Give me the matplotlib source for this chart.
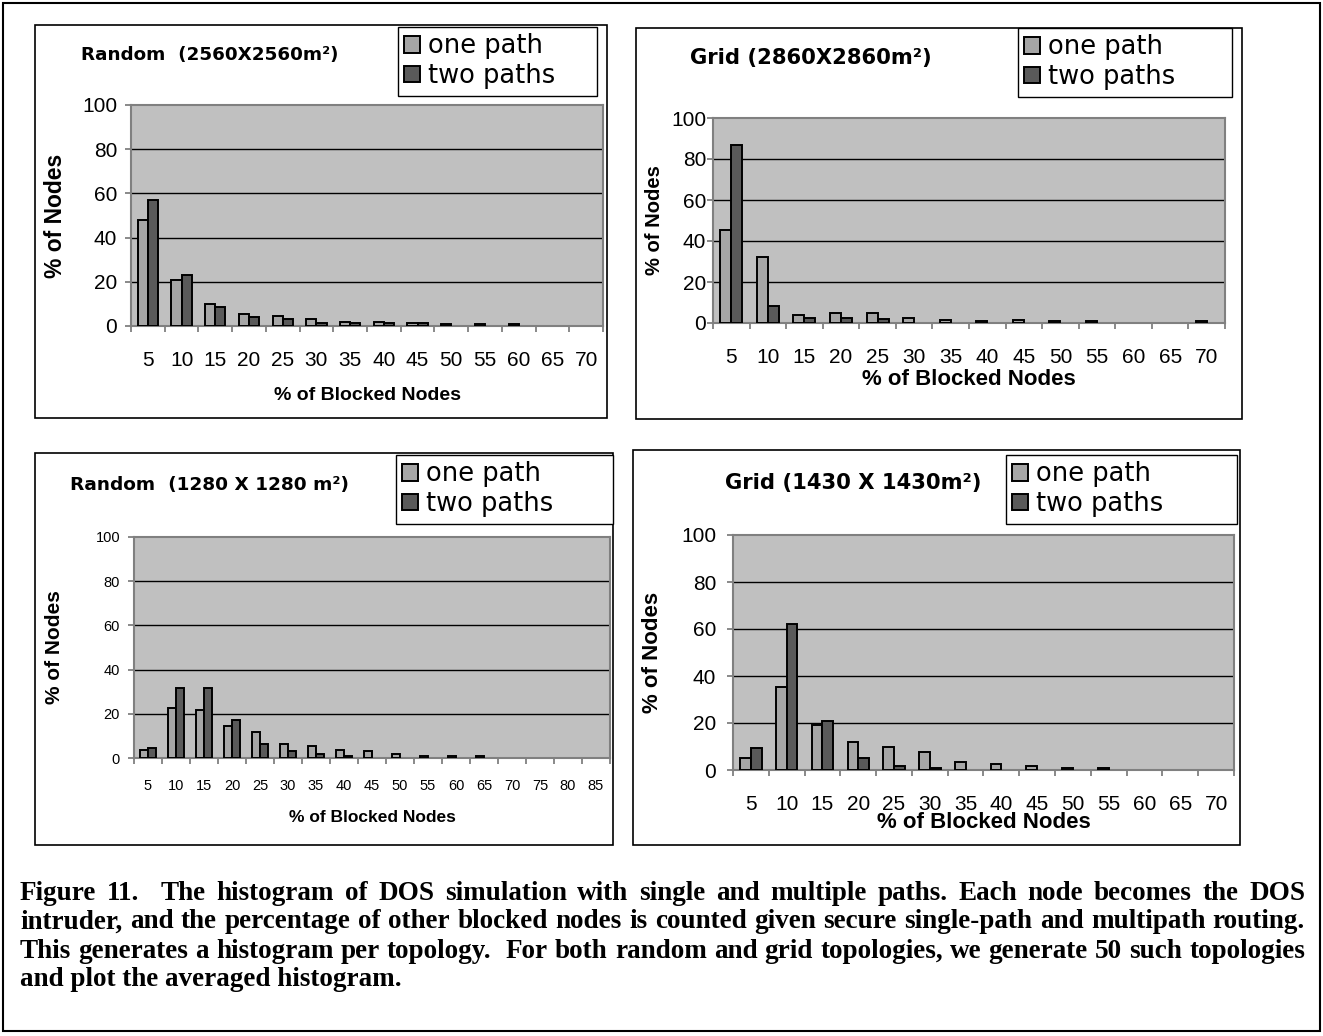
import numpy as np
import matplotlib
matplotlib.use('Agg')
import matplotlib.pyplot as plt
from matplotlib.patches import Rectangle

W, H = 1323, 1036

# categories (% of blocked nodes)
cats_70 = [5, 10, 15, 20, 25, 30, 35, 40, 45, 50, 55, 60, 65, 70]
cats_85 = [5, 10, 15, 20, 25, 30, 35, 40, 45, 50, 55, 60, 65, 70, 75, 80, 85]

# % of nodes
rand2560_one = [48, 21, 10, 5.5, 4.5, 3, 2, 2, 1.2, 1, 1, 1, 0, 0]
rand2560_two = [57, 23, 8.5, 4, 3, 1.5, 1.2, 1.2, 1.2, 0, 0, 0, 0, 0]

grid2860_one = [45.5, 32, 4, 5, 5, 2.6, 1.6, 0.8, 1.6, 0.8, 0.8, 0, 0, 0.8]
grid2860_two = [87, 8.5, 2.6, 2.6, 1.8, 0, 0, 0, 0, 0, 0, 0, 0, 0]

rand1280_one = [3.8, 22.5, 21.7, 14.3, 11.9, 6.3, 5.3, 3.8, 3, 2, 1, 1, 1, 0, 0, 0, 0]
rand1280_two = [4.7, 31.5, 31.5, 17.2, 6.3, 3, 1.8, 1, 0, 0, 0, 0, 0, 0, 0, 0, 0]

grid1430_one = [5, 35.5, 19.3, 12, 10, 7.6, 3.3, 2.4, 1.7, 1, 1, 0, 0, 0]
grid1430_two = [9.3, 62, 21, 5, 1.7, 1, 0, 0, 0, 0, 0, 0, 0, 0]

caption_lines = [
    "Figure 11.  The histogram of DOS simulation with single and multiple paths. Each node becomes the DOS",
    "intruder, and the percentage of other blocked nodes is counted given secure single-path and multipath routing.",
    "This generates a histogram per topology.  For both random and grid topologies, we generate 50 such topologies",
    "and plot the averaged histogram.",
]

ONE_COLOR = '#a6a6a6'
TWO_COLOR = '#5a5a5a'
BG = '#c0c0c0'
AXIS_GRAY = '#808080'
WIDE = ['DejaVu Sans']

plt.rcParams['font.family'] = ['Liberation Sans', 'DejaVu Sans']

fig = plt.figure(figsize=(W / 100, H / 100), dpi=100)


def fx(x):
    return x / W


def fy(y):
    return 1 - y / H


def box(x0, y0, x1, y1, lw=1.2, color='black'):
    fig.add_artist(Rectangle((fx(x0), fy(y1)), (x1 - x0) / W, (y1 - y0) / H,
                             transform=fig.transFigure, fill=False,
                             edgecolor=color, linewidth=lw))


def panel(frame, plot, cats, one, two, title, title_pos, title_size, leg,
          tick_size, ypad, xlab_y, xlab_size, ylab_x, ylab_size):
    box(*frame)
    x0, y0, x1, y1 = plot
    ax = fig.add_axes([fx(x0), fy(y1), (x1 - x0) / W, (y1 - y0) / H])
    ax.set_facecolor(BG)
    x = np.arange(len(cats))
    one = np.array(one, dtype=float)
    two = np.array(two, dtype=float)
    bw = 0.3
    m1, m2 = one > 0, two > 0
    b1 = ax.bar(x[m1] - bw / 2, one[m1], bw, color=ONE_COLOR, edgecolor='black',
                linewidth=1.4, zorder=3)
    b2 = ax.bar(x[m2] + bw / 2, two[m2], bw, color=TWO_COLOR, edgecolor='black',
                linewidth=1.4, zorder=3)
    ax.set_xlim(-0.5, len(cats) - 0.5)
    ax.set_ylim(0, 100)
    ax.set_yticks(range(0, 101, 20))
    for g in [20, 40, 60, 80]:
        ax.axhline(g, color='black', linewidth=1, zorder=1)
    ax.set_xticks(np.arange(len(cats) + 1) - 0.5)
    ax.set_xticklabels([])
    ax.set_xticks(x, minor=True)
    ax.set_xticklabels([str(c) for c in cats], minor=True)
    ax.tick_params(axis='x', which='minor', length=0, pad=18 if tick_size > 11 else 15,
                   labelsize=tick_size)
    ax.tick_params(axis='x', which='major', length=4, width=1.3, color=AXIS_GRAY)
    ax.tick_params(axis='y', length=4, width=1.3, color=AXIS_GRAY, pad=ypad,
                   labelsize=tick_size)
    for s in ax.spines.values():
        s.set_color(AXIS_GRAY)
        s.set_linewidth(1.5)

    fig.text(fx(title_pos[0]), fy(title_pos[1]), title, fontsize=title_size,
             family=WIDE, fontweight='bold', va='center', ha='left')

    lx0, ly0, lx1, ly1 = leg
    fig.legend([b1, b2], ['one path', 'two paths'], loc='upper left',
               bbox_to_anchor=(fx(lx0), fy(ly1), (lx1 - lx0) / W, (ly1 - ly0) / H),
               bbox_transform=fig.transFigure, mode='expand',
               prop={'family': WIDE, 'size': 18.5},
               fancybox=False, edgecolor='black', framealpha=1, borderaxespad=0,
               handlelength=0.6, handleheight=0.6, handletextpad=0.3,
               labelspacing=0.15, borderpad=0.25)

    fig.text((fx(x0) + fx(x1)) / 2, fy(xlab_y), '% of Blocked Nodes', fontsize=xlab_size,
             fontweight='bold', ha='center', va='center')
    fig.text(fx(ylab_x), (fy(y0) + fy(y1)) / 2, '% of Nodes', fontsize=ylab_size,
             fontweight='bold', rotation=90, ha='center', va='center')


# outer border
box(3, 3, 1320, 1031, lw=1.5)

panel((35, 25, 607, 418), (131, 105, 603, 326), cats_70, rand2560_one, rand2560_two,
      'Random  (2560X2560m²)', (81, 55), 13.2, (398, 27, 597, 98),
      15, 6, 395, 14, 56, 16.5)
panel((636, 28, 1242, 419), (713, 118, 1225, 323), cats_70, grid2860_one, grid2860_two,
      'Grid (2860X2860m²)', (690, 58), 15.2, (1018, 28, 1232, 98),
      15, 1, 380, 16, 655, 14.5)
panel((35, 453, 613, 845), (134, 537, 610, 758), cats_85, rand1280_one, rand1280_two,
      'Random  (1280 X 1280 m²)', (70, 485), 13.3, (396, 455, 613, 525),
      10.5, 6, 818, 12.5, 55, 15)
panel((633, 450, 1240, 845), (733, 535, 1234, 770), cats_70, grid1430_one, grid1430_two,
      'Grid (1430 X 1430m²)', (725, 483), 15.2, (1006, 455, 1237, 527),
      15, 8, 822, 16, 653, 16)

# justified caption, font sized so the longest line fits
renderer = fig.canvas.get_renderer()
cap_x0, cap_x1 = 20, 1305
cap_y = [893, 922, 951, 980]
probe = fig.text(0, 0, caption_lines[1], family='Liberation Serif', fontweight='bold',
                 fontsize=16)
cap_size = 16 * (cap_x1 - cap_x0) * 0.995 / probe.get_window_extent(renderer).width
probe.remove()

for i, line in enumerate(caption_lines):
    if i == len(caption_lines) - 1:
        fig.text(fx(cap_x0), fy(cap_y[i]), line, family='Liberation Serif',
                 fontweight='bold', fontsize=cap_size, va='center', ha='left')
        continue
    words = line.split(' ')
    texts = [fig.text(0, fy(cap_y[i]), w, family='Liberation Serif', fontweight='bold',
                      fontsize=cap_size, va='center', ha='left') for w in words]
    widths = [t.get_window_extent(renderer).width if w else 0 for t, w in zip(texts, words)]
    gap = (cap_x1 - cap_x0 - sum(widths)) / (len(words) - 1)
    pos = cap_x0
    for t, w in zip(texts, widths):
        t.set_x(fx(pos))
        pos += w + gap

fig.savefig('out.png', dpi=100)
